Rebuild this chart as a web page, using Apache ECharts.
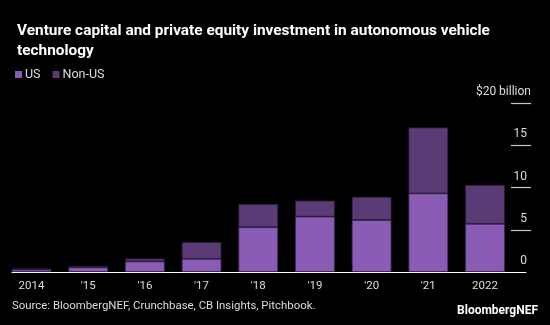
<!DOCTYPE html>
<html><head><meta charset="utf-8">
<script src="https://cdn.jsdelivr.net/npm/echarts@6/dist/echarts.min.js"></script>
<style>html,body{margin:0;padding:0;background:#000;}#c{width:550px;height:325px;}</style>
</head><body><div id="c"></div>
<script>
const categories = ['2014', "'15", "'16", "'17", "'18", "'19", "'20", "'21", '2022'];
const usValues = [0.3, 0.55, 1.25, 1.55, 5.3, 6.55, 6.15, 9.3, 5.7];
const nonUsValues = [0.1, 0.15, 0.35, 2.0, 2.75, 1.9, 2.75, 7.8, 4.6];
const yTicks = [0, 5, 10, 15, 20];
const FONT = 'Roboto';
const chart = echarts.init(document.getElementById('c'), null, {renderer: 'canvas'});
const gTop = 103, gH = 169;
chart.setOption({
  backgroundColor: '#000',
  animation: false,
  title: {
    text: 'Venture capital and private equity investment in autonomous vehicle\ntechnology',
    left: 12, top: 16,
    textStyle: {color: '#fff', fontFamily: FONT, fontWeight: 'bold', fontSize: 15.4, lineHeight: 20}
  },
  legend: {
    left: 10, top: 63, itemWidth: 7, itemHeight: 7, itemGap: 12,
    icon: 'rect',
    itemStyle: {borderWidth: 0},
    textStyle: {color: '#ddd', fontFamily: FONT, fontSize: 12.5, padding: [0, 0, 0, -2]},
    data: ['US', 'Non-US']
  },
  grid: [
    {left: 3.15, width: 510.2, top: gTop, height: gH},
    {left: 511, width: 20, top: gTop, height: gH},
    {left: 12, width: 514, top: gTop, height: gH}
  ],
  xAxis: [
    {type: 'category', gridIndex: 0, data: categories,
     axisLine: {show: false}, axisTick: {show: false},
     axisLabel: {color: '#ddd', fontFamily: FONT, fontSize: 11.5, margin: 8}},
    {type: 'value', gridIndex: 1, show: false},
    {type: 'value', gridIndex: 2, min: 0, max: 1,
     axisLine: {show: true, lineStyle: {color: '#fff', width: 1.2}},
     axisTick: {show: false}, axisLabel: {show: false}, splitLine: {show: false}}
  ],
  yAxis: [
    {type: 'value', gridIndex: 0, min: 0, max: 20, show: false},
    {type: 'value', gridIndex: 1, min: 0, max: 20, interval: 5, position: 'right',
     axisLine: {show: false}, axisTick: {show: false},
     splitLine: {show: true, lineStyle: {color: ['rgba(0,0,0,0)', '#c8c8c8', '#c8c8c8', '#c8c8c8', '#c8c8c8'], width: 1.2}},
     axisLabel: {inside: true, margin: 0, verticalAlign: 'bottom', align: 'right',
       color: '#ddd', fontFamily: FONT, fontSize: 12,
       formatter: v => v === 20 ? '{t|$20 billion}' : '{n|' + v + '}',
       rich: {
         t: {color: '#ddd', fontFamily: FONT, fontSize: 12, padding: [0, 0, 5, 0]},
         n: {color: '#ddd', fontFamily: FONT, fontSize: 12, padding: [0, 4, 5, 0]}
       }}},
    {type: 'value', gridIndex: 2, min: 0, max: 1, show: false}
  ],
  series: [
    {name: 'US', type: 'bar', stack: 'a', xAxisIndex: 0, yAxisIndex: 0, data: usValues, barWidth: '70%',
     itemStyle: {color: '#8a5cb6', borderColor: '#3e2856', borderWidth: 0.8}},
    {name: 'Non-US', type: 'bar', stack: 'a', xAxisIndex: 0, yAxisIndex: 0, data: nonUsValues, barWidth: '70%',
     itemStyle: {color: '#5a3b75', borderColor: '#2e1d40', borderWidth: 0.8}}
  ],
  graphic: [
    {type: 'text', left: 12, top: 301,
     style: {text: 'Source: BloombergNEF, Crunchbase, CB Insights, Pitchbook.', fill: '#ddd', font: '11.4px ' + FONT}},
    {type: 'text', right: 12, top: 305,
     style: {text: 'BloombergNEF', fill: '#fff', font: 'bold 12px ' + FONT}}
  ]
});
</script></body></html>
